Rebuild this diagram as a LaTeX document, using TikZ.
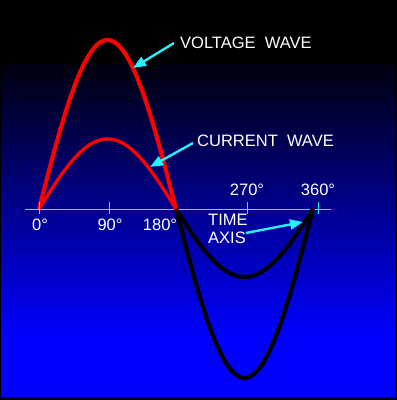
\documentclass[tikz,border=0pt]{standalone}
\usepackage{fontspec}
\setmainfont{Liberation Sans}
\usepackage{tikz}
\usetikzlibrary{arrows.meta, positioning, calc}
\definecolor{skyblue}{RGB}{0, 0, 255}
\definecolor{nightblue}{RGB}{0, 0, 12}
\definecolor{axiscyan}{RGB}{40, 240, 255}
\definecolor{wavered}{RGB}{255, 0, 0}

\begin{document}
\begin{tikzpicture}[x=1pt, y=-1pt,
  lbl/.style={text=white, font=\fontsize{16.5}{18}\selectfont, inner sep=2pt},
  pointer/.style={axiscyan, line width=2.4pt, -{Triangle[length=13pt, width=10pt]}},
  volt/.style={line width=4.2pt, samples=90, domain=0:180},
  curr/.style={line width=3.3pt, samples=90, domain=0:180},
]
\useasboundingbox (0,0) rectangle (397,400);
% Background
\fill[black] (0,0) rectangle (397,400);
\shade[top color=nightblue, bottom color=skyblue] (1,63) rectangle (395,335);
\fill[skyblue] (1,335) rectangle (395,397);

% Time axis
\draw[axiscyan, line width=1pt] (25,209) -- (331,209);

% Waves
\draw[wavered, volt] plot ({39+\x/180*137}, {209-169*sin(\x)});
\draw[black, volt, domain=180:360] plot ({39+\x/180*137}, {209-169*sin(\x)});
\draw[wavered, curr] plot ({39+\x/180*137}, {209-70*sin(\x)});
\draw[black, curr, line width=4pt, domain=180:360] plot ({39+\x/180*137}, {209-68*sin(\x)});

% Ticks
\foreach \t in {39, 109, 247, 318}
  \draw[axiscyan, line width=1pt] (\t,202) -- (\t,214);

% Degree labels
\node[lbl] (d0) at (40,225) {0°};
\node[lbl] (d90) at (110,225) {90°};
\node[lbl] (d180) at (160,225) {180°};
\node[lbl] (d270) at (247,190) {270°};
\node[lbl] (d360) at (318,190) {360°};

% Wave names
\node[lbl, anchor=west] (vname) at (178,43) {VOLTAGE\ \ WAVE};
\node[lbl, anchor=west] (cname) at (195,141) {CURRENT\ \ WAVE};
\node[lbl, anchor=west, align=left] (tname) at (206,229) {TIME\\AXIS};

% Pointers
\coordinate (vtip) at (133,68);
\coordinate (ctip) at (150,167);
\coordinate (ttip) at (303,222);
\draw[pointer] ([xshift=-4pt]vname.west) -- (vtip);
\draw[pointer] ([xshift=-2pt, yshift=-2pt]cname.west) -- (ctip);
\draw[pointer] ([xshift=-4pt, yshift=-4pt]tname.east) -- (ttip);
\end{tikzpicture}
\end{document}
